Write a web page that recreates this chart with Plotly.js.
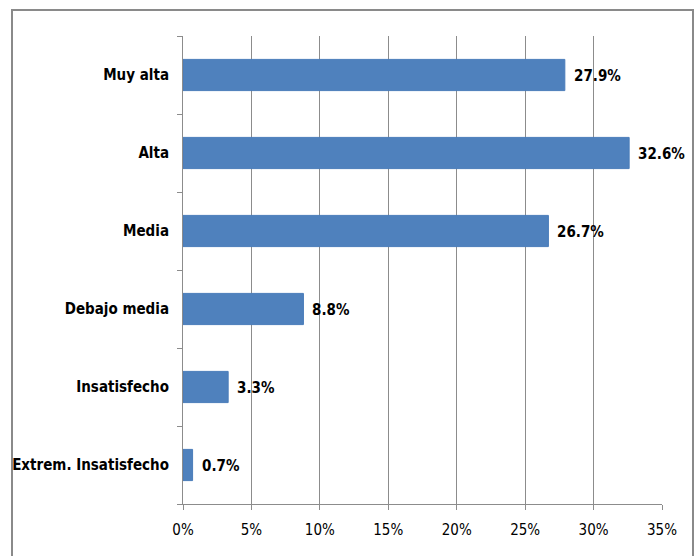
<!DOCTYPE html>
<html><head><meta charset="utf-8">
<script src="https://cdn.plot.ly/plotly-3.0.1.min.js"></script>
<style>
body{margin:0;padding:0;background:#fff;}
#wrap{position:relative;width:696px;height:556px;overflow:hidden;}
#chart{position:absolute;left:0;top:0;width:696px;height:556px;}
#frame{position:absolute;left:11px;top:9px;width:679px;height:600px;border:2px solid #8a8a8a;pointer-events:none;}
</style></head>
<body>
<div id="wrap"><div id="chart"></div><div id="frame"></div></div>
<script>
const categories = ["Muy alta","Alta","Media","Debajo media","Insatisfecho","Extrem. Insatisfecho"];
const values = [27.9, 32.6, 26.7, 8.8, 3.3, 0.7];
const labels = ["27.9%","32.6%","26.7%","8.8%","3.3%","0.7%"];
const xTicks = [0,5,10,15,20,25,30,35];
const xTickText = ["0%","5%","10%","15%","20%","25%","30%","35%"];

const font = '"DejaVu Sans Condensed","Liberation Sans Narrow",Arial,sans-serif';

const annotations = values.map((v,i)=>({
  x:v, y:categories[i], xref:'x', yref:'y', text:labels[i],
  showarrow:false, xanchor:'left', yanchor:'middle', xshift:7, yshift:-1,
  font:{family:font, size:15, color:'#000', weight:'bold'}
}));

Plotly.newPlot('chart', [{
  type:'bar', orientation:'h',
  y: categories, x: values,
  marker:{color:'#4F81BD', line:{color:'#4A7DBA', width:1}},
  width:0.4, hoverinfo:'none'
}], {
  width:696, height:556,
  margin:{l:183, r:34, t:36, b:52},
  paper_bgcolor:'rgba(0,0,0,0)', plot_bgcolor:'#fff',
  showlegend:false,
  annotations: annotations,
  xaxis:{range:[0,35], tickvals:xTicks, ticktext:xTickText,
    showgrid:true, gridcolor:'#8c8c8c', gridwidth:1,
    showline:true, linecolor:'#8c8c8c', linewidth:1,
    ticks:'outside', ticklen:5, tickcolor:'#8c8c8c',
    tickfont:{family:font, size:15, color:'#000'}, ticklabelstandoff:7,
    zeroline:false, fixedrange:true},
  yaxis:{categoryorder:'array', categoryarray:categories.slice().reverse(),
    autorange:true,
    showline:true, linecolor:'#8c8c8c', linewidth:1,
    ticks:'outside', tickson:'boundaries', ticklen:5, tickcolor:'#8c8c8c',
    tickfont:{family:font, size:15, color:'#000', weight:'bold'},
    showgrid:false, ticklabelstandoff:10, fixedrange:true}
}, {staticPlot:true});
</script>
</body></html>
